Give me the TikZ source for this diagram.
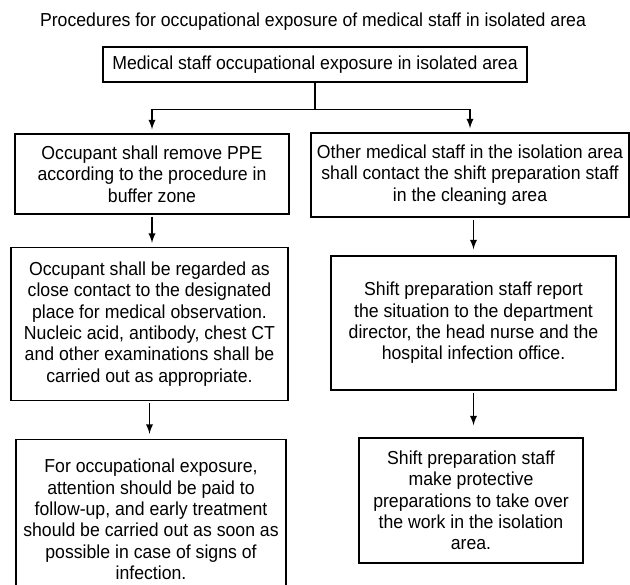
\documentclass[tikz,border=0pt]{standalone}
\usepackage{fontspec}
\setsansfont[FakeStretch=0.94]{Liberation Sans}
\usetikzlibrary{arrows,positioning}
\tikzset{%
  % Specifications for style of arrows:
   projection/.style={
           -latex,
           line width=0.65pt,
           shorten <=1pt,
           shorten >=2pt,},
   junction/.style={
           line width=0.65pt,},
  % Specifications for style of nodes:
   stepbox/.style = {rectangle, draw=black, line width=0.7pt,
                  inner sep=0pt, align=center,
                  font=\sffamily\fontsize{9.4}{10.65}\selectfont},
   headline/.style = {inner sep=0pt,
                  font=\sffamily\fontsize{9.4}{10.65}\selectfont},
}
\begin{document}
\begin{tikzpicture}[node distance=75pt,
    every node/.style={fill=white}]

  \useasboundingbox (0,0) rectangle (315pt,-292pt);

  % Specification of nodes (position, etc.)
  \node (T_block)	[stepbox, minimum width=212pt, minimum height=17.5pt] at (157.5pt,-32.25pt)
        {Medical staff occupational exposure in isolated area};
  \node (Title_block)	[headline, node distance=21.25pt, above of= T_block, xshift=-1pt]
        {Procedures for occupational exposure of medical staff in isolated area};

  \node (L1_block)	[stepbox, minimum width=137pt, minimum height=40pt,
        node distance=54.75pt, below of= T_block, xshift=-81.5pt]
        {Occupant shall remove PPE\\according to the procedure in\\buffer zone};
  \node (R1_block)	[stepbox, minimum width=159pt, minimum height=42pt,
        node distance=55.25pt, below of= T_block, xshift=77.5pt]
        {Other medical staff in the isolation area\\shall contact the shift preparation staff\\in the cleaning area};

  \node (L2_block)	[stepbox, minimum width=138.5pt, minimum height=76.5pt,
        below of= L1_block, xshift=-1.25pt]
        {Occupant shall be regarded as\\close contact to the designated\\place for medical observation.\\Nucleic acid, antibody, chest CT\\and other examinations shall be\\carried out as appropriate.};
  \node (R2_block)	[stepbox, minimum width=142.5pt, minimum height=67pt,
        node distance=74pt, below of= R1_block, xshift=1.75pt]
        {Shift preparation staff report\\the situation to the department\\director, the head nurse and the\\hospital infection office.};

  \node (L3_block)	[stepbox, minimum width=135pt, minimum height=80pt,
        node distance=97.75pt, below of= L2_block, xshift=0.75pt]
        {For occupational exposure,\\attention should be paid to\\follow-up, and early treatment\\should be carried out as soon as\\possible in case of signs of\\infection.};
  \node (R3_block)	[stepbox, minimum width=112pt, minimum height=62.5pt,
        node distance=88.75pt, below of= R2_block, xshift=-1.25pt]
        {Shift preparation staff\\make protective\\preparations to take over\\the work in the isolation\\area.};

  % Connectors
  \coordinate (fork) at ([yshift=-13.5pt]T_block.south);
  \draw[junction] (T_block.south) -- (fork);
  \draw[projection, shorten <=0pt] (fork) -| (L1_block.north);
  \draw[projection, shorten <=0pt] (fork) -| (R1_block.north);

  \draw[projection] (L1_block.south) -- (L1_block.south |- L2_block.north);
  \draw[projection, shorten >=3pt] (R2_block.north |- R1_block.south) -- (R2_block.north);
  \draw[projection, shorten >=2.5pt] (L2_block.south) -- (L2_block.south |- L3_block.north);
  \draw[projection, shorten >=6pt] (R2_block.south) -- (R2_block.south |- R3_block.north);

  \end{tikzpicture}
\end{document}
